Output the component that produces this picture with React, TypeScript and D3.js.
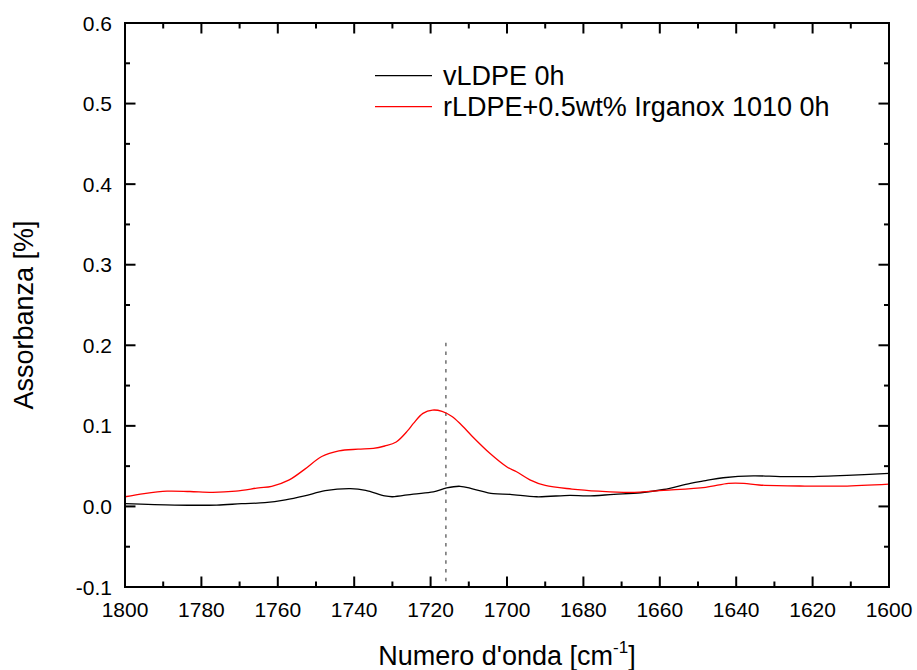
import React from "react";
import * as d3 from "d3";

const vldpeWn = [1800, 1787, 1776, 1769.5, 1763.4, 1758, 1753, 1747.6, 1741, 1737, 1732, 1730, 1724.5, 1719.3, 1715.8, 1712.3, 1708.8, 1703.6, 1699.2, 1692.2, 1683.5, 1679, 1672, 1665, 1659, 1652, 1648, 1643.4, 1635.5, 1628.5, 1621.5, 1611, 1600];
const vldpeAbs = [0.0034, 0.0017, 0.0017, 0.0034, 0.0046, 0.008, 0.013, 0.0195, 0.022, 0.020, 0.013, 0.012, 0.0154, 0.018, 0.023, 0.025, 0.0216, 0.0158, 0.015, 0.012, 0.0138, 0.013, 0.015, 0.017, 0.021, 0.0287, 0.032, 0.0356, 0.038, 0.037, 0.037, 0.0386, 0.041];

const rldpeWn = [1800, 1795, 1789, 1783, 1777, 1771, 1765, 1761.6, 1757, 1753, 1748.5, 1744, 1739, 1735, 1732, 1729, 1726, 1724.5, 1722, 1719.5, 1717, 1714.5, 1712.3, 1709, 1704.5, 1700, 1697.5, 1694, 1690, 1683, 1676, 1667.8, 1659, 1648, 1642, 1638, 1634, 1622, 1612, 1600];
const rldpeAbs = [0.012, 0.016, 0.019, 0.0185, 0.0175, 0.019, 0.023, 0.025, 0.033, 0.046, 0.062, 0.069, 0.071, 0.072, 0.075, 0.080, 0.094, 0.103, 0.1155, 0.1196, 0.118, 0.112, 0.103, 0.0865, 0.066, 0.049, 0.043, 0.033, 0.026, 0.0216, 0.019, 0.0175, 0.020, 0.0237, 0.0287, 0.0287, 0.0266, 0.0253, 0.0253, 0.0278];

const seriesNames = ["vLDPE 0h", "rLDPE+0.5wt% Irganox 1010 0h"];
const seriesColors = ["#000000", "#ff0000"];

const xTicks = [1800, 1780, 1760, 1740, 1720, 1700, 1680, 1660, 1640, 1620, 1600];
const xMinorTicks = [1790, 1770, 1750, 1730, 1710, 1690, 1670, 1650, 1630, 1610];
const yTicks = [-0.1, 0.0, 0.1, 0.2, 0.3, 0.4, 0.5, 0.6];
const yTickLabels = ["-0.1", "0.0", "0.1", "0.2", "0.3", "0.4", "0.5", "0.6"];
const yMinorTicks = [-0.05, 0.05, 0.15, 0.25, 0.35, 0.45, 0.55];
const markerWn = 1716;
const markerTop = 0.203;

const FONT = "'Liberation Sans', Arial, sans-serif";

export default function App() {
  const W = 917, H = 670;
  const L = 125, R = 889, T = 23, B = 587;
  const x = d3.scaleLinear().domain([1800, 1600]).range([L, R]);
  const y = d3.scaleLinear().domain([-0.1, 0.6]).range([B, T]);

  const mk = (wn: number[], ab: number[]) =>
    d3.line<number>().x((_, i) => x(wn[i])).y((_, i) => y(ab[i])).curve(d3.curveCatmullRom.alpha(0.5))(wn.map((_, i) => i)) || "";

  const paths = [mk(vldpeWn, vldpeAbs), mk(rldpeWn, rldpeAbs)];
  const legendY = [75.7, 106.7];

  return (
    <svg width={W} height={H} style={{ position: "absolute", left: 0, top: 0, background: "#fff" }} fontFamily={FONT}>
      <rect x={0} y={0} width={W} height={H} fill="#fff" />
      {/* dashed marker */}
      <line x1={x(markerWn)} x2={x(markerWn)} y1={y(markerTop)} y2={B} stroke="#777" strokeWidth={1.6} strokeDasharray="3.5,5.2" />
      {/* data */}
      {paths.map((p, i) => (
        <path key={i} d={p} fill="none" stroke={seriesColors[i]} strokeWidth={1.3} />
      ))}
      {/* ticks */}
      {xTicks.map((t) => (
        <g key={"xt" + t}>
          <line x1={x(t)} x2={x(t)} y1={B} y2={B - 10.5} stroke="#000" strokeWidth={2} />
          <line x1={x(t)} x2={x(t)} y1={T} y2={T + 10.5} stroke="#000" strokeWidth={2} />
          <text x={x(t)} y={617} textAnchor="middle" fontSize={21}>{t}</text>
        </g>
      ))}
      {xMinorTicks.map((t) => (
        <g key={"xm" + t}>
          <line x1={x(t)} x2={x(t)} y1={B} y2={B - 5.5} stroke="#000" strokeWidth={2} />
          <line x1={x(t)} x2={x(t)} y1={T} y2={T + 5.5} stroke="#000" strokeWidth={2} />
        </g>
      ))}
      {yTicks.map((t, i) => (
        <g key={"yt" + t}>
          <line x1={L} x2={L + 10.5} y1={y(t)} y2={y(t)} stroke="#000" strokeWidth={2} />
          <line x1={R} x2={R - 10.5} y1={y(t)} y2={y(t)} stroke="#000" strokeWidth={2} />
          <text x={112} y={y(t) + 7.5} textAnchor="end" fontSize={21}>{yTickLabels[i]}</text>
        </g>
      ))}
      {yMinorTicks.map((t) => (
        <g key={"ym" + t}>
          <line x1={L} x2={L + 5} y1={y(t)} y2={y(t)} stroke="#000" strokeWidth={2} />
          <line x1={R} x2={R - 5} y1={y(t)} y2={y(t)} stroke="#000" strokeWidth={2} />
        </g>
      ))}
      {/* frame */}
      <rect x={L} y={T} width={R - L} height={B - T} fill="none" stroke="#000" strokeWidth={2} />
      {/* legend */}
      {seriesNames.map((n, i) => (
        <g key={"lg" + i}>
          <line x1={375} x2={432} y1={legendY[i]} y2={legendY[i]} stroke={seriesColors[i]} strokeWidth={1.3} />
          <text x={443} y={legendY[i] + 9.3} fontSize={27}>{n}</text>
        </g>
      ))}
      {/* axis titles */}
      <text x={(L + R) / 2} y={665} textAnchor="middle" fontSize={27}>
        Numero d'onda [cm<tspan fontSize={17} dy={-12}>-1</tspan><tspan dy={12}>]</tspan>
      </text>
      <text transform={`translate(33, ${315}) rotate(-90)`} textAnchor="middle" fontSize={27}>Assorbanza [%]</text>
    </svg>
  );
}
